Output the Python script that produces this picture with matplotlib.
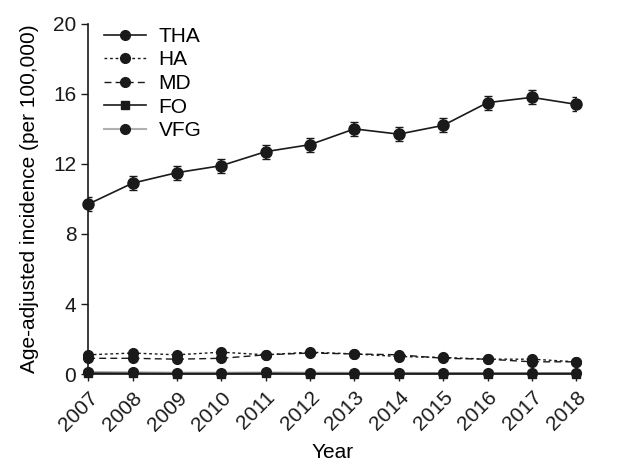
import matplotlib
matplotlib.use("Agg")
import matplotlib.pyplot as plt
from matplotlib.lines import Line2D

plt.rcParams['font.family'] = ['Liberation Sans', 'DejaVu Sans']

years = [2007, 2008, 2009, 2010, 2011, 2012, 2013, 2014, 2015, 2016, 2017, 2018]
tha = [9.7, 10.9, 11.5, 11.9, 12.7, 13.1, 14.0, 13.7, 14.2, 15.5, 15.8, 15.4]
tha_err = [0.4, 0.4, 0.4, 0.4, 0.4, 0.4, 0.4, 0.4, 0.4, 0.4, 0.4, 0.4]
ha = [1.1, 1.2, 1.1, 1.25, 1.1, 1.25, 1.15, 1.0, 0.95, 0.85, 0.85, 0.7]
md = [0.9, 0.9, 0.85, 0.9, 1.1, 1.2, 1.15, 1.1, 0.9, 0.85, 0.7, 0.7]
fo = [0.05, 0.04, 0.03, 0.03, 0.04, 0.03, 0.03, 0.03, 0.03, 0.03, 0.03, 0.03]
vfg = [0.12, 0.1, 0.08, 0.08, 0.09, 0.08, 0.07, 0.07, 0.06, 0.06, 0.06, 0.06]
yticks = [0, 4, 8, 12, 16, 20]

fig = plt.figure(figsize=(6.34, 4.67), dpi=100)
ax = fig.add_axes([0.139, 0.199, 0.770, 0.750])

c = '#1a1a1a'
ax.plot(years, vfg, color='#b0b0b0', lw=1.5, marker='o', ms=7, mfc=c, mec=c, clip_on=False, zorder=3)
ax.plot(years, fo, color=c, lw=1.2, marker='s', ms=6, clip_on=False, zorder=4)
ax.plot(years, md, color=c, lw=1.0, ls=(0, (5, 3)), marker='o', ms=7, clip_on=False, zorder=4)
ax.plot(years, ha, color=c, lw=1.0, ls=(0, (2, 2)), marker='o', ms=7, clip_on=False, zorder=4)
eb = ax.errorbar(years, tha, yerr=tha_err, color=c, lw=1.2, marker='o', ms=8, capsize=3, elinewidth=1.2, zorder=5)
eb.lines[0].set_clip_on(False)

ax.set_xlim(2007, 2018)
ax.set_ylim(0, 20)
ax.set_yticks(yticks)
ax.set_xticks(years)
ax.set_xticklabels([str(y) for y in years], rotation=45, ha='right', rotation_mode='anchor')
ax.tick_params(labelsize=15, direction='out', length=5, width=1, colors=c)
ax.tick_params(axis='x', pad=5)
for s in ['top', 'right']:
    ax.spines[s].set_visible(False)
for s in ['left', 'bottom']:
    ax.spines[s].set_color(c)
    ax.spines[s].set_linewidth(1.2)

ax.set_xlabel('Year', fontsize=15, labelpad=6)
ax.set_ylabel('Age-adjusted incidence (per 100,000)', fontsize=15, labelpad=10)

handles = [
    Line2D([], [], color=c, lw=1.2, marker='o', ms=7),
    Line2D([], [], color=c, lw=1.0, ls=(0, (2, 2)), marker='o', ms=7),
    Line2D([], [], color=c, lw=1.0, ls=(0, (5, 3)), marker='o', ms=7),
    Line2D([], [], color=c, lw=1.2, marker='s', ms=6),
    Line2D([], [], color='#b0b0b0', lw=1.5, marker='o', ms=7, mfc=c, mec=c),
]
order = ['THA', 'HA', 'MD', 'FO', 'VFG']
ax.legend(handles, order, loc='upper left', bbox_to_anchor=(-0.005, 1.045),
          frameon=False, fontsize=15, handlelength=2.0, handletextpad=0.6, labelspacing=0.22)

fig.savefig('out.png', dpi=100)
